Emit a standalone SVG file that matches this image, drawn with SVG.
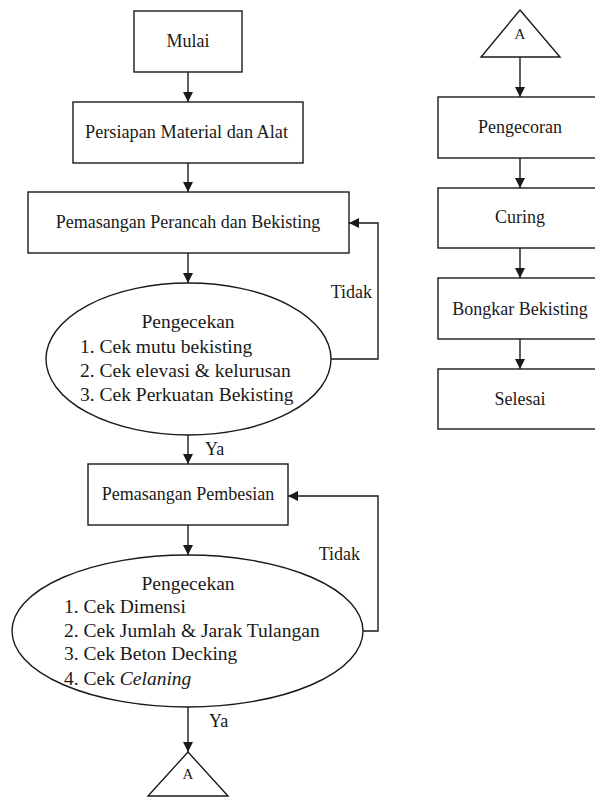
<svg xmlns="http://www.w3.org/2000/svg" width="595" height="798" viewBox="0 0 595 798" font-family="Liberation Serif, DejaVu Serif, serif">
<defs>
<marker id="ah" viewBox="0 0 10 10" refX="10" refY="5" markerWidth="10" markerHeight="10" markerUnits="userSpaceOnUse" orient="auto">
<path d="M0,0 L10,5 L0,10 Z" fill="#1a1a1a"/>
</marker>
<style>
.box{fill:#fff;stroke:#1a1a1a;stroke-width:1.4}
.ln{fill:none;stroke:#1a1a1a;stroke-width:1.4;marker-end:url(#ah)}
text{font-family:'Liberation Serif','DejaVu Serif',serif;font-size:18px;fill:#1a1a1a}
.c{text-anchor:middle}
.s{font-size:15px}
.e{font-size:19.5px}
</style>
</defs>
<rect width="595" height="798" fill="#fff"/>
<g id="connectors">
<line class="ln" x1="188" y1="72" x2="188" y2="102"/>
<line class="ln" x1="188" y1="163" x2="188" y2="192"/>
<line class="ln" x1="188" y1="253" x2="188" y2="283"/>
<polyline class="ln" points="331,359 378,359 378,223 349,223"/>
<line class="ln" x1="188" y1="435" x2="188" y2="464"/>
<line class="ln" x1="188" y1="525" x2="188" y2="555"/>
<polyline class="ln" points="363,631 378,631 378,496 288,496"/>
<line class="ln" x1="188" y1="707" x2="188" y2="752"/>
<line class="ln" x1="520" y1="57" x2="520" y2="97"/>
<line class="ln" x1="520" y1="158" x2="520" y2="188"/>
<line class="ln" x1="520" y1="248" x2="520" y2="278"/>
<line class="ln" x1="520" y1="339" x2="520" y2="369"/>
<text x="372" y="298" text-anchor="end">Tidak</text>
<text x="205" y="455">Ya</text>
<text x="360" y="560" text-anchor="end">Tidak</text>
<text x="209" y="727">Ya</text>
</g>
<g id="mulai">
<rect class="box" x="134" y="11" width="108" height="61"/>
<text class="c" x="188" y="47">Mulai</text>
</g>
<g id="persiapan">
<rect class="box" x="73" y="102" width="230" height="61"/>
<text class="c" x="186.5" y="138" textLength="203" lengthAdjust="spacingAndGlyphs">Persiapan Material dan Alat</text>
</g>
<g id="perancah">
<rect class="box" x="28" y="192" width="321" height="61"/>
<text class="c" x="188" y="228">Pemasangan Perancah dan Bekisting</text>
</g>
<g id="cek1">
<ellipse class="box" cx="188.5" cy="359" rx="142.5" ry="76"/>
<text class="c e" x="188" y="328">Pengecekan</text>
<text class="e" x="80" y="353">1. Cek mutu bekisting</text>
<text class="e" x="80" y="377">2. Cek elevasi &amp; kelurusan</text>
<text class="e" x="80" y="401">3. Cek Perkuatan Bekisting</text>
</g>
<g id="pembesian">
<rect class="box" x="88" y="464" width="200" height="61"/>
<text class="c" x="188" y="500">Pemasangan Pembesian</text>
</g>
<g id="cek2">
<ellipse class="box" cx="187.5" cy="631" rx="175.5" ry="76"/>
<text class="c e" x="188" y="590">Pengecekan</text>
<text class="e" x="64" y="613">1. Cek Dimensi</text>
<text class="e" x="64" y="637">2. Cek Jumlah &amp; Jarak Tulangan</text>
<text class="e" x="64" y="660">3. Cek Beton Decking</text>
<text class="e" x="64" y="685">4. Cek <tspan font-style="italic">Celaning</tspan></text>
</g>
<g id="a1">
<polygon class="box" points="188,752 228,796 148,796"/>
<text class="c s" x="188" y="779">A</text>
</g>
<g id="a2">
<polygon class="box" points="520,10 560,57 481,57"/>
<text class="c s" x="520" y="39">A</text>
</g>
<g id="pengecoran">
<rect class="box" x="438" y="97" width="164" height="61"/>
<text class="c" x="520" y="133">Pengecoran</text>
</g>
<g id="curing">
<rect class="box" x="438" y="188" width="164" height="60"/>
<text class="c" x="520" y="223">Curing</text>
</g>
<g id="bongkar">
<rect class="box" x="438" y="278" width="164" height="61"/>
<text class="c" x="520" y="315">Bongkar Bekisting</text>
</g>
<g id="selesai">
<rect class="box" x="438" y="369" width="164" height="60"/>
<text class="c" x="520" y="405">Selesai</text>
</g>
</svg>
